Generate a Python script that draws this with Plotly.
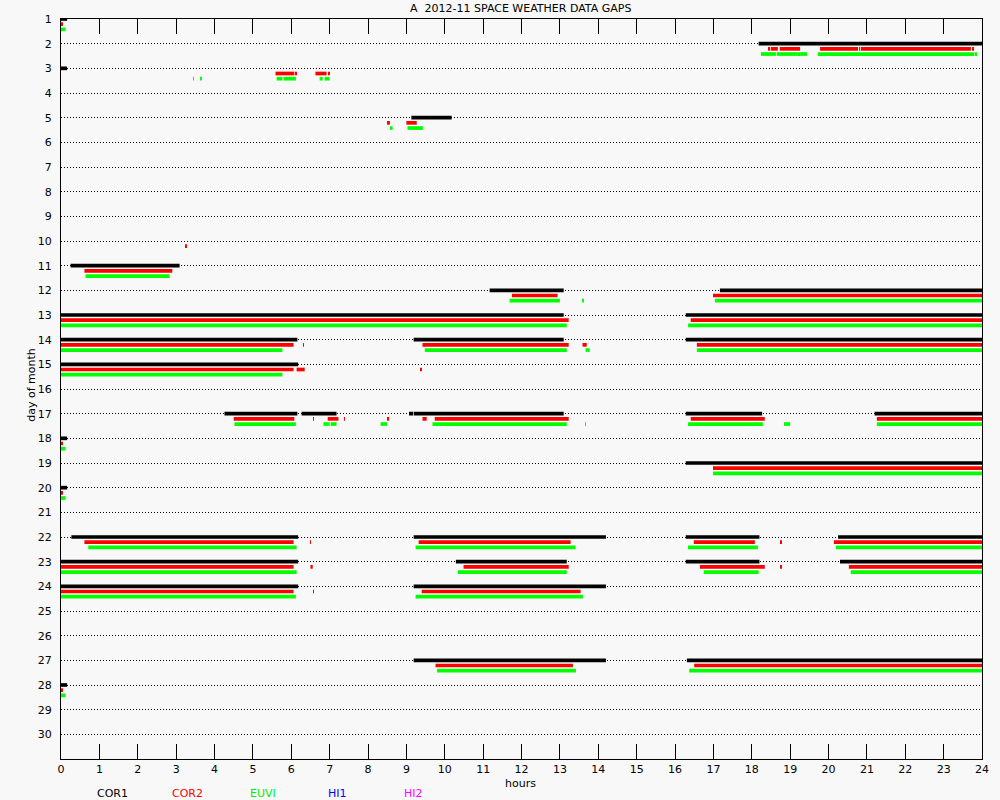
import plotly.graph_objects as go

# ---- data: (day, start_hour, end_hour) ----
days = list(range(1, 31))
hour_ticks = list(range(0, 25))

cor1_gaps = [
    (1, 0, 0.16), (2, 18.18, 24), (3, 0, 0.16), (5, 9.13, 10.18),
    (11, 0.25, 3.09), (12, 11.17, 13.1), (12, 17.17, 24),
    (13, 0, 13.1), (13, 16.28, 24),
    (14, 0, 6.16), (14, 9.19, 13.1), (14, 16.28, 24),
    (15, 0, 6.18),
    (17, 4.26, 6.16), (17, 6.27, 7.18), (17, 9.07, 9.1), (17, 9.13, 9.16),
    (17, 9.19, 13.1), (17, 16.28, 18.27), (17, 21.2, 24),
    (18, 0, 0.16), (19, 16.28, 24), (20, 0, 0.16),
    (22, 0.27, 6.18), (22, 9.19, 14.2), (22, 16.28, 18.2), (22, 20.25, 24),
    (23, 0, 6.18), (23, 10.29, 13.18), (23, 16.28, 18.2), (23, 20.3, 24),
    (24, 0, 6.18), (24, 9.19, 14.2),
    (27, 9.19, 14.2), (27, 16.31, 24),
    (28, 0, 0.16),
]

cor2_gaps = [
    (1, 0, 0.05),
    (2, 18.44, 18.48), (2, 18.5, 18.68), (2, 18.73, 19.26), (2, 19.78, 20.77),
    (2, 20.8, 20.82), (2, 20.84, 23.71), (2, 23.74, 23.79),
    (3, 5.59, 6.08), (3, 6.11, 6.13), (3, 6.63, 6.92), (3, 6.97, 6.99),
    (5, 8.52, 8.57), (5, 9.0, 9.27),
    (10, 3.25, 3.27),
    (11, 0.61, 2.9),
    (12, 11.75, 12.94), (12, 16.99, 24),
    (13, 0, 13.23), (13, 16.41, 24),
    (14, 0, 6.06), (14, 6.31, 6.33), (14, 9.42, 13.23), (14, 13.59, 13.7), (14, 16.57, 24),
    (15, 0, 6.06), (15, 6.14, 6.35), (15, 9.37, 9.39),
    (17, 4.5, 6.08), (17, 6.57, 6.59), (17, 6.95, 7.23), (17, 7.38, 7.4),
    (17, 8.5, 8.55), (17, 9.42, 9.53), (17, 9.74, 13.23), (17, 16.41, 18.34), (17, 21.26, 24),
    (18, 0, 0.04), (19, 16.99, 24), (20, 0, 0.04),
    (22, 0.61, 6.06), (22, 6.49, 6.51), (22, 9.32, 13.28), (22, 16.49, 18.08),
    (22, 18.75, 18.77), (22, 20.14, 24),
    (23, 0, 6.06), (23, 6.5, 6.56), (23, 10.49, 13.23), (23, 16.65, 18.34),
    (23, 18.75, 18.77), (23, 20.53, 24),
    (24, 0, 6.06), (24, 6.57, 6.59), (24, 9.4, 13.54),
    (27, 9.76, 13.34), (27, 16.5, 24),
    (28, 0, 0.04),
]

euvi_gaps = [
    (1, 0, 0.12),
    (2, 18.24, 18.63), (2, 18.65, 19.2), (2, 19.22, 19.25), (2, 19.26, 19.44),
    (2, 19.72, 20.72), (2, 20.74, 20.76), (2, 20.77, 23.8), (2, 23.83, 23.86),
    (3, 3.44, 3.46), (3, 3.63, 3.65), (3, 5.62, 5.77), (3, 5.8, 6.12),
    (3, 6.74, 6.82), (3, 6.87, 7.0),
    (5, 8.57, 8.64), (5, 9.03, 9.43),
    (11, 0.64, 2.83),
    (12, 11.69, 13.0), (12, 13.59, 13.61), (12, 17.04, 24),
    (13, 0, 13.18), (13, 16.34, 24),
    (14, 0, 5.77), (14, 9.48, 13.18), (14, 13.67, 13.78), (14, 16.57, 24),
    (15, 0, 5.77),
    (17, 4.52, 6.12), (17, 6.84, 7.0), (17, 7.03, 7.18), (17, 8.33, 8.5),
    (17, 9.68, 13.18), (17, 13.66, 13.68), (17, 16.34, 18.29), (17, 18.84, 19.0), (17, 21.26, 24),
    (18, 0, 0.12), (19, 16.99, 24), (20, 0, 0.12),
    (22, 0.71, 6.14), (22, 9.24, 13.41), (22, 16.34, 18.16), (22, 20.19, 24),
    (23, 0, 6.14), (23, 10.34, 13.18), (23, 16.75, 18.18), (23, 20.58, 24),
    (24, 0, 6.12), (24, 9.24, 13.6),
    (27, 9.8, 13.42), (27, 16.37, 24),
    (28, 0, 0.12),
]

instruments = ["COR1", "COR2", "EUVI", "HI1", "HI2"]
inst_colors = ["#000000", "#ff0000", "#00ee00", "#0000ff", "#ff00ff"]

# ---- figure ----
FONT = "DejaVu Sans"
fig = go.Figure()

series = [(cor1_gaps, 0.0, "#000000"), (cor2_gaps, 0.21, "#ff0000"), (euvi_gaps, 0.42, "#00ff00")]
for gaps, off, col in series:
    fig.add_trace(go.Bar(
        y=[g[0] + off for g in gaps],
        x=[g[2] - g[1] for g in gaps],
        base=[g[1] for g in gaps],
        orientation="h",
        width=0.15,
        marker=dict(color=col, line=dict(width=0)),
        showlegend=False,
        hoverinfo="skip",
    ))

fig.update_layout(
    width=1000, height=800,
    margin=dict(l=61, r=18, t=19, b=41),
    paper_bgcolor="#f8f8f8", plot_bgcolor="#f8f8f8",
    barmode="overlay",
    font=dict(family=FONT, size=11, color="#000000"),
    showlegend=False,
)

fig.update_xaxes(
    range=[0, 24], tickmode="array", tickvals=hour_ticks,
    ticktext=[str(h) for h in hour_ticks],
    ticks="inside", ticklen=15, tickwidth=1, tickcolor="#000000",
    showline=True, linecolor="#000000", linewidth=1, mirror="ticks",
    showgrid=False, zeroline=False,
    tickfont=dict(family=FONT, size=11),
)
fig.update_yaxes(
    range=[31, 1], tickmode="array", tickvals=days,
    ticktext=[str(d) for d in days],
    ticks="", showline=True, linecolor="#000000", linewidth=1, mirror=True,
    showgrid=True, gridcolor="#000000", gridwidth=1, griddash="1px,2px",
    zeroline=False, ticklabelstandoff=6,
    tickfont=dict(family=FONT, size=11),
)

annotations = [
    dict(text="A  2012-11 SPACE WEATHER DATA GAPS", x=0.4986, y=1 + 10 / 740,
         xref="paper", yref="paper", showarrow=False, xanchor="center", yanchor="middle",
         font=dict(family=FONT, size=11, color="#000000")),
    dict(text="hours", x=0.4986, y=-24 / 740, xref="paper", yref="paper",
         showarrow=False, xanchor="center", yanchor="middle",
         font=dict(family=FONT, size=11, color="#000000")),
    dict(text="day of month", x=-0.032, y=0.505, xref="paper", yref="paper",
         showarrow=False, xanchor="center", yanchor="middle", textangle=-90,
         font=dict(family=FONT, size=11, color="#000000")),
]
legend_x = [0.0558, 0.137, 0.2196, 0.2999, 0.3825]
for name, col, lx in zip(instruments, inst_colors, legend_x):
    annotations.append(dict(text=name, x=lx, y=-34 / 740, xref="paper", yref="paper",
                            showarrow=False, xanchor="center", yanchor="middle",
                            font=dict(family=FONT, size=11, color=col)))
fig.update_layout(annotations=annotations)

fig.write_html("out.html", config={"displayModeBar": False},
               post_script="document.body.style.margin='0';document.body.style.overflow='hidden';")
